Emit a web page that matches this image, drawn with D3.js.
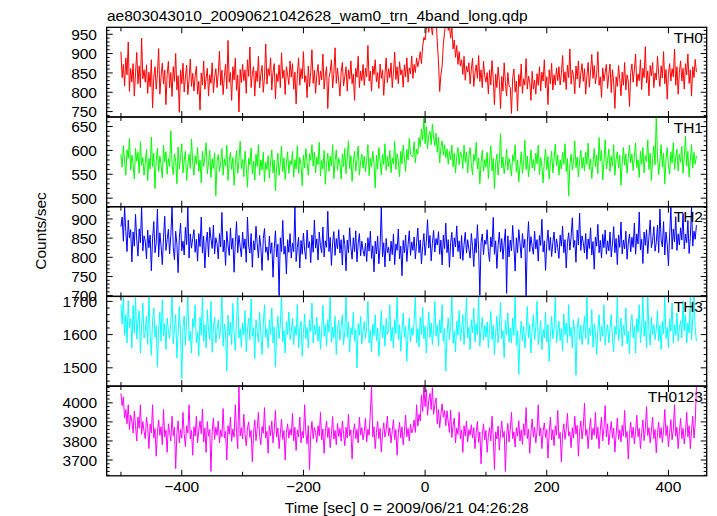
<!DOCTYPE html>
<html><head><meta charset="utf-8">
<script src="https://cdn.jsdelivr.net/npm/d3@7"></script>
<style>body{margin:0;background:#fff}text{font-family:"Liberation Sans",Arial,Helvetica,sans-serif;fill:#000}</style>
</head><body><svg id="c" width="717" height="516"></svg>
<script>
const title = "ae803043010_20090621042628_wam0_trn_4band_long.qdp";
const xTitle = "Time [sec] 0 = 2009/06/21 04:26:28";
const yTitle = "Counts/sec";
const bandNames = ["TH0", "TH1", "TH2", "TH3", "TH0123"];
const bandColors = ["#ff0000", "#00ff00", "#0000ff", "#00ffff", "#ff00ff"];
const binStart = -500, binWidth = 2;
const xTickValues = [-500,-400,-300,-200,-100,0,100,200,300,400];
const xTickLabels = [-400,-200,0,200,400];
const yDomains = [[736,968],[482,670],[698,932],[1445,1715],[3617,4088]];
const yMajorTicks = [[750,800,850,900,950],[500,550,600,650],[700,750,800,850,900],[1500,1600,1700],[3700,3800,3900,4000]];
const yMinorStep = [10,10,10,20,20];

const th0 = [905,838,872,816,889,845,930,802,861,827,874,790,851,903,822,868,812,940,835,858,
826,871,797,852,814,884,760,839,866,808,848,913,795,842,875,821,857,768,846,880,
812,851,789,866,828,900,806,843,748,858,822,875,801,839,870,794,832,886,815,849,
803,842,867,795,828,754,850,819,881,808,836,862,790,845,823,876,799,838,861,812,
848,906,818,857,794,841,872,809,934,826,851,779,866,832,888,805,844,749,859,825,
872,830,858,797,884,841,917,812,849,866,790,855,828,893,811,847,869,800,838,925,
821,861,843,889,806,852,874,783,848,828,871,812,902,836,857,794,866,845,820,881,
839,874,808,852,770,846,889,818,861,835,905,826,843,786,868,814,852,910,823,857,
797,846,872,819,855,832,899,808,844,866,758,838,853,884,811,849,915,823,862,829,
790,851,877,816,841,866,803,858,834,881,822,847,779,862,839,893,812,855,830,872,
818,862,840,921,829,855,803,868,846,884,827,851,810,873,836,858,792,846,889,825,
861,838,876,812,852,904,833,866,822,879,845,858,813,871,840,889,826,863,848,894,
836,872,851,889,866,882,905,874,918,942,935,962,980,955,990,972,948,985,970,995,
930,880,802,845,868,925,955,985,978,960,972,940,968,912,935,890,921,872,905,868,
884,846,893,831,867,852,876,822,860,888,815,849,871,836,895,828,858,812,880,843,
826,851,796,858,819,882,835,768,847,812,865,829,758,841,803,876,824,790,851,817,
812,745,838,860,801,829,752,846,815,873,797,835,819,887,808,842,826,779,854,808,
831,795,848,818,866,803,852,829,884,811,840,768,858,822,875,806,845,819,863,830,
866,819,848,895,826,853,807,870,838,912,821,857,843,796,868,834,881,812,849,874,
828,861,795,842,877,813,852,898,836,869,822,847,905,818,840,786,863,829,851,872,
810,846,873,799,858,826,758,840,815,869,832,791,852,818,877,806,845,829,763,851,
873,826,858,899,815,847,830,884,807,862,838,918,824,855,791,869,843,877,812,850,
832,893,846,815,868,837,905,822,859,782,848,874,829,861,840,912,818,866,795,852,
881,829,862,808,874,845,899,823,858,790,866,838,885,852];

const th1 = [592,565,610,578,548,601,583,625,559,590,571,540,604,577,596,552,618,569,585,548,
574,602,537,583,561,628,566,594,520,579,605,556,588,570,542,611,576,597,550,583,
566,641,572,549,593,578,530,607,561,586,614,553,579,598,537,570,592,562,624,575,
548,589,571,606,556,580,532,598,566,587,616,551,574,600,543,583,562,595,505,578,
591,556,574,604,548,582,567,611,537,576,596,560,585,527,571,600,552,579,619,562,
581,545,598,567,523,584,570,605,551,577,538,592,566,612,548,580,559,596,534,575,
560,589,542,576,601,553,580,515,567,594,548,573,609,556,584,539,571,597,552,578,
569,598,544,581,561,610,552,585,571,526,590,563,604,575,548,593,579,612,567,596,
553,586,570,617,546,579,561,600,529,572,594,556,588,567,612,541,577,601,558,584,
572,540,593,566,604,551,583,620,562,589,535,574,598,557,581,609,548,576,592,563,
588,555,579,612,547,584,566,598,573,521,590,561,606,578,549,592,570,614,558,587,
566,600,553,584,571,619,560,593,578,545,598,572,611,584,556,602,580,625,592,588,
586,618,574,603,592,627,608,645,622,668,614,650,603,632,640,612,655,628,610,636,
596,628,574,606,620,590,612,585,603,571,598,580,611,566,594,553,588,606,570,597,
590,562,611,575,597,553,588,606,570,549,592,578,617,561,584,530,574,600,556,581,
565,596,541,579,610,557,583,520,574,592,548,578,635,563,586,551,572,603,559,583,
570,546,591,577,612,555,580,534,568,597,552,576,621,560,588,545,571,601,563,581,
557,594,572,611,549,585,566,532,578,603,560,587,540,575,598,553,582,613,568,590,
548,580,561,596,571,614,556,583,505,570,592,559,577,620,564,586,545,578,600,562,
585,557,596,571,615,560,582,541,573,604,566,590,551,627,578,600,538,576,622,561,
579,603,556,588,567,612,548,581,597,563,590,527,574,606,569,593,552,585,611,574,
592,558,587,616,564,580,543,598,571,606,553,589,577,622,560,594,537,583,609,570,
672,588,549,579,612,565,594,530,581,606,568,550,597,574,616,560,586,603,557,592,
575,609,552,586,630,567,598,544,580,612,563,596,571,588];

const th2 = [880,905,842,932,868,815,897,851,872,788,866,829,912,845,803,874,838,932,817,856,
842,796,871,825,858,765,849,893,812,838,926,801,864,829,781,852,907,818,846,873,
809,857,932,826,794,868,835,760,851,889,817,842,806,878,833,932,798,861,824,849,
872,813,847,790,862,828,905,811,855,772,839,866,801,878,848,823,884,809,851,836,
796,862,827,917,814,845,779,868,832,805,876,821,850,761,839,893,812,857,828,801,
866,823,848,787,905,829,811,862,774,843,819,881,836,798,857,826,766,849,875,813,
827,792,855,810,838,748,823,869,801,834,700,851,815,896,808,829,757,846,813,862,
798,837,815,932,789,826,852,772,844,808,863,819,795,871,825,841,786,858,813,897,
824,848,793,866,830,812,879,801,843,826,920,815,852,779,838,867,805,849,822,872,
811,846,780,858,833,765,845,812,877,826,795,851,815,869,788,836,862,804,842,818,
803,837,789,851,816,868,797,830,762,842,809,855,783,826,932,801,838,775,849,812,
826,790,842,807,861,781,835,818,874,796,829,752,844,812,858,789,833,869,805,840,
818,853,796,838,876,812,845,783,829,862,805,841,898,824,857,791,836,870,814,849,
832,867,808,845,780,858,823,889,812,846,774,838,865,801,851,827,882,815,843,796,
857,792,833,865,811,846,821,798,862,828,776,849,812,885,820,701,839,861,807,845,
834,872,815,789,853,827,904,808,843,771,831,866,814,849,795,838,874,706,856,801,
845,817,883,829,764,851,812,872,836,798,862,825,847,700,839,893,815,854,828,808,
868,822,846,790,857,831,899,814,843,766,836,871,818,852,802,839,866,811,848,825,
797,858,829,881,812,846,772,838,864,819,853,903,826,844,787,871,832,915,818,856,
839,811,862,795,848,823,877,806,841,769,853,829,886,812,844,798,860,825,871,808,
843,817,866,801,835,880,812,849,781,858,826,892,809,845,822,868,795,837,861,814,
852,826,889,808,861,835,918,819,847,784,866,831,872,810,854,897,825,843,880,816,
839,884,812,926,845,827,893,806,866,835,778,858,932,821,874,840,906,818,861,832,
877,845,915,822,861,838,896,810,852,932,829,868,847,884];

const th3 = [1690,1632,1715,1598,1660,1575,1702,1621,1648,1560,1688,1605,1715,1587,1640,1672,1545,1625,1695,1590,
1610,1655,1570,1715,1603,1538,1642,1680,1592,1627,1502,1615,1668,1580,1705,1597,1633,1555,1650,1612,
1588,1640,1715,1572,1618,1660,1530,1605,1685,1598,1468,1625,1655,1568,1640,1715,1582,1610,1545,1648,
1622,1690,1575,1608,1536,1652,1598,1715,1580,1630,1560,1675,1612,1585,1700,1547,1622,1653,1575,1610,
1645,1588,1620,1715,1565,1632,1605,1490,1658,1598,1637,1570,1694,1608,1552,1640,1715,1590,1618,1562,
1635,1600,1672,1548,1614,1650,1585,1708,1596,1620,1528,1645,1610,1577,1668,1600,1540,1632,1690,1592,
1618,1560,1645,1600,1680,1575,1622,1502,1610,1655,1588,1630,1715,1578,1612,1545,1640,1600,1668,1585,
1607,1650,1570,1625,1598,1690,1560,1617,1640,1535,1603,1662,1588,1622,1560,1645,1610,1695,1575,1628,
1600,1652,1580,1625,1556,1612,1688,1595,1630,1565,1645,1608,1715,1577,1622,1590,1655,1540,1618,1642,
1583,1625,1660,1570,1610,1715,1592,1638,1547,1620,1600,1668,1580,1615,1500,1633,1598,1655,1572,1610,
1640,1588,1622,1700,1575,1613,1548,1632,1597,1660,1582,1620,1535,1605,1672,1590,1628,1565,1648,1600,
1615,1690,1580,1622,1560,1645,1603,1715,1585,1630,1550,1612,1665,1592,1625,1520,1608,1650,1578,1620,
1598,1640,1715,1575,1618,1563,1652,1600,1682,1588,1625,1545,1610,1668,1592,1635,1570,1612,1700,1595,
1628,1565,1645,1605,1690,1580,1618,1490,1600,1650,1585,1625,1715,1575,1610,1548,1640,1598,1672,1582,
1615,1660,1570,1628,1712,1590,1622,1555,1645,1605,1680,1578,1632,1600,1715,1565,1618,1652,1583,1627,
1592,1638,1560,1615,1670,1585,1628,1540,1605,1655,1575,1620,1698,1588,1612,1530,1642,1600,1665,1578,
1620,1575,1650,1598,1715,1568,1612,1480,1595,1640,1582,1625,1560,1608,1685,1590,1630,1545,1618,1660,
1585,1622,1700,1570,1605,1642,1555,1615,1590,1668,1578,1630,1520,1600,1655,1588,1620,1715,1575,1612,
1640,1582,1618,1550,1662,1600,1635,1575,1690,1595,1622,1560,1645,1605,1478,1618,1650,1585,1628,1570,
1608,1655,1588,1715,1570,1620,1598,1675,1562,1632,1605,1540,1615,1660,1580,1625,1595,1690,1568,1612,
1630,1575,1618,1660,1590,1548,1625,1600,1715,1582,1615,1650,1565,1628,1598,1680,1572,1610,1542,1638,
1660,1590,1625,1545,1648,1608,1690,1575,1620,1715,1595,1640,1560,1715,1610,1568,1652,1600,1630,1585,
1615,1672,1580,1628,1555,1640,1602,1715,1588,1622,1560,1648,1610,1695,1575,1630,1598,1665,1580,1620,
1642,1590,1700,1612,1660,1575,1635,1605,1715,1585,1650,1715,1620,1580];

const th0123 = [4050,3985,4030,3920,3965,3890,3990,3860,3935,3905,3842,3958,3880,3800,3925,3868,3990,3835,3902,3850,
3812,3925,3870,3760,3888,3842,3990,3815,3865,3720,3848,3910,3830,3875,3780,3965,3822,3856,3740,3890,
3845,3800,3930,3828,3872,3655,3840,3905,3790,3860,3815,3950,3835,3770,3880,3842,3990,3810,3856,3725,
3875,3826,3930,3790,3855,3905,3838,3968,3795,3868,3740,3902,3825,3860,3640,3850,3920,3808,3872,3830,
3905,3790,3858,3822,3970,3815,3850,3700,3880,3835,3925,3798,3862,3820,3990,3845,3760,4085,3826,3870,
3810,3940,3835,3775,3868,3900,3818,3855,3690,3838,3910,3802,3862,3950,3825,3780,3876,3840,3975,3815,
3850,3736,3880,3828,3905,3790,3858,3960,3820,3868,3760,3840,3915,3808,3855,3700,3845,3890,3815,3862,
3830,3945,3800,3872,3750,3858,3822,3925,3790,3850,3815,3990,3840,3785,3880,3650,3835,3902,3812,3870,
3845,3792,3880,3826,3950,3805,3862,3735,3848,3905,3818,3870,3765,3836,3928,3810,3856,3780,3892,3824,
3866,3800,3905,3838,3775,3872,3815,3940,3826,3858,3705,3842,3890,3812,3860,3790,3925,3832,3870,3806,
3850,3918,3795,3862,3830,3952,4085,3820,3874,3760,3845,3902,3812,3866,3742,3838,3895,3820,3858,3930,
3825,3868,3790,3855,3912,3808,3860,3725,3842,3898,3816,3874,3780,3850,3935,3822,3866,3800,3888,3842,
3862,3910,3845,3990,3878,3940,3905,4040,3955,4085,3980,4070,3935,4010,4050,3965,4080,3940,3990,4025,
3890,3965,3870,3940,3995,3925,3960,3880,3958,3900,3845,3962,3818,3880,3920,3790,3868,3835,3950,3810,
3858,3740,3880,3826,3905,3795,3860,3830,3885,3815,3870,3760,3845,3902,3792,3848,3680,3832,3890,3805,
3855,3740,3825,3870,3800,3930,3822,3650,3848,3810,3878,3752,3840,3905,3818,3850,3640,3830,3892,3795,
3862,3950,3812,3848,3768,3870,3825,3906,3800,3858,3782,3890,3830,3975,3812,3860,3735,3845,3915,3820,
3872,3790,3852,3990,3826,3868,3760,3850,3895,3818,3860,3710,3842,3925,3806,3858,3775,3880,3830,3960,
3812,3845,3690,3838,3890,3808,3862,3945,3825,3848,3765,3870,3815,3930,3836,3882,3720,3850,3905,3810,
3872,3998,3828,3860,3760,3855,3918,3806,3866,3830,3950,3812,3872,3760,3858,3925,3800,3866,3985,3822,
3890,3780,3845,3902,3815,3868,3742,3836,3920,3808,3858,3795,3882,3826,3960,3818,3850,3705,3840,3898,
3816,3872,3785,3850,3935,3822,3866,3760,3845,3910,3802,3862,3980,3828,3870,3790,3852,3925,3812,3860,
3738,3845,3898,3815,3870,3792,3856,3965,3828,3880,3770,3842,3912,3806,3858,3990,3825,3872,3760,3850,
3918,3812,3866,3785,3845,3950,3822,3880,3760,3858,3930,3815,3890,4085];

const series = [th0, th1, th2, th3, th0123];

const svg = d3.select("#c");
svg.append("rect").attr("width",717).attr("height",516).attr("fill","#fff");
const left = 106.7, right = 706.7, top0 = 27.3, panelH = 89.7;
const x = d3.scaleLinear().domain([-523.4, 462.9]).range([left, right]);
const fs = "15.5px";

series.forEach((vals, p) => {
  const t = top0 + p * panelH, b = t + panelH;
  const y = d3.scaleLinear().domain(yDomains[p]).range([b, t]);
  const g = svg.append("g");
  const cid = "clip" + p;
  svg.append("clipPath").attr("id", cid).append("rect")
    .attr("x", left).attr("y", t).attr("width", right - left).attr("height", panelH);
  const line = d3.line().x((d, i) => x(binStart + i * binWidth)).y(d => y(d));
  g.append("path").datum(vals).attr("clip-path", `url(#${cid})`)
    .attr("d", line).attr("fill", "none").attr("stroke", bandColors[p]).attr("stroke-width", 1);

  const [y0, y1] = yDomains[p];
  const minors = d3.range(Math.ceil(y0 / yMinorStep[p]) * yMinorStep[p], y1 + 0.001, yMinorStep[p]);
  minors.forEach(v => {
    const major = yMajorTicks[p].includes(v);
    const len = major ? 6 : 3;
    const yy = y(v);
    g.append("line").attr("x1", left).attr("x2", left + len).attr("y1", yy).attr("y2", yy).attr("stroke", "#000").attr("stroke-width", 1);
    g.append("line").attr("x1", right).attr("x2", right - len).attr("y1", yy).attr("y2", yy).attr("stroke", "#000").attr("stroke-width", 1);
  });
  yMajorTicks[p].forEach(v => {
    g.append("text").attr("x", 97).attr("y", y(v)).attr("dy", "0.36em").attr("text-anchor", "end")
      .style("font-size", fs).text(v);
  });
  xTickValues.forEach(v => {
    const len = (v % 200 === 0) ? 6 : 4;
    const xx = x(v);
    g.append("line").attr("x1", xx).attr("x2", xx).attr("y1", t).attr("y2", t + len).attr("stroke", "#000").attr("stroke-width", 1);
    g.append("line").attr("x1", xx).attr("x2", xx).attr("y1", b).attr("y2", b - len).attr("stroke", "#000").attr("stroke-width", 1);
  });
  g.append("rect").attr("x", left).attr("y", t).attr("width", right - left).attr("height", panelH)
    .attr("fill", "none").attr("stroke", "#000").attr("stroke-width", 1.3);
  g.append("text").attr("x", 703).attr("y", t + 15.5).attr("text-anchor", "end")
    .style("font-size", fs).text(bandNames[p]);
});

const bottom = top0 + 5 * panelH;
xTickLabels.forEach(v => {
  svg.append("text").attr("x", x(v)).attr("y", bottom + 16.5).attr("text-anchor", "middle")
    .style("font-size", fs).text(v < 0 ? "\u2212" + Math.abs(v) : v);
});
svg.append("text").attr("x", 107).attr("y", 20.7).style("font-size", fs).text(title);
svg.append("text").attr("x", (left + right) / 2).attr("y", 513).attr("text-anchor", "middle")
  .style("font-size", fs).text(xTitle);
svg.append("text").attr("transform", "translate(46,231) rotate(-90)").attr("text-anchor", "middle")
  .style("font-size", fs).text(yTitle);
</script></body></html>
